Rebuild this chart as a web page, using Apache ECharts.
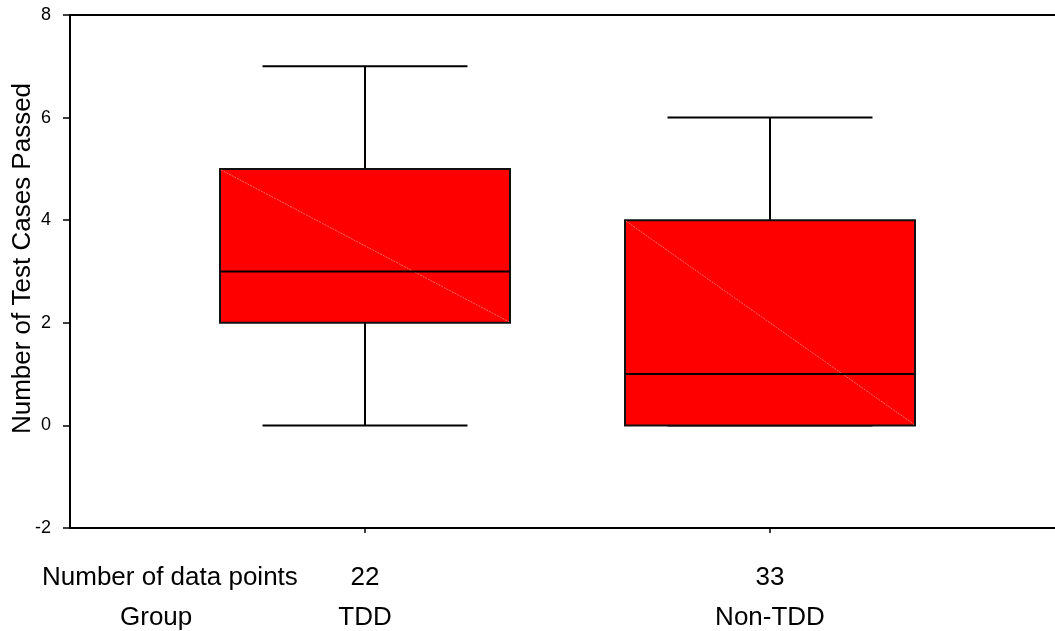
<!DOCTYPE html>
<html>
<head>
<meta charset="utf-8">
<title>Number of Test Cases Passed</title>
<script src="https://cdn.jsdelivr.net/npm/echarts@6/dist/echarts.min.js"></script>
<style>
  html, body { margin: 0; padding: 0; background: #fff; }
  #chart { width: 1055px; height: 631px; }
</style>
</head>
<body>
<div id="chart"></div>
<script>
// Box-plot summary per group
const groups      = ['TDD', 'Non-TDD'];
const dataPoints  = [22, 33];
const minValues   = [0, 0];
const q1Values    = [2, 0];
const medians     = [3, 1];
const q3Values    = [5, 4];
const maxValues   = [7, 6];

// Value axis ticks
const yTicks = { min: -2, max: 8, interval: 2 };

const FONT = "'Liberation Sans', Arial, Helvetica, sans-serif";

// Group i sits at x = i + 1 on the horizontal value axis
const boxData = groups.map((g, i) => [i + 1, minValues[i], q1Values[i], medians[i], q3Values[i], maxValues[i]]);
const groupPos = groups.map((g, i) => i + 1);

function renderBox(params, api) {
  const x = api.value(0);
  const unit = api.coord([2, 0])[0] - api.coord([1, 0])[0];
  const halfBox = unit * 0.358;
  const halfCap = unit * 0.253;
  const pMin = api.coord([x, api.value(1)]);
  const pQ1  = api.coord([x, api.value(2)]);
  const pMed = api.coord([x, api.value(3)]);
  const pQ3  = api.coord([x, api.value(4)]);
  const pMax = api.coord([x, api.value(5)]);
  const cx = pMin[0];
  const line = { stroke: '#000', lineWidth: 2 };
  return {
    type: 'group',
    children: [
      // whiskers and caps
      { type: 'line', shape: { x1: cx, y1: pQ3[1], x2: cx, y2: pMax[1] }, style: line },
      { type: 'line', shape: { x1: cx, y1: pQ1[1], x2: cx, y2: pMin[1] }, style: line },
      { type: 'line', shape: { x1: cx - halfCap, y1: pMax[1], x2: cx + halfCap, y2: pMax[1] }, style: line },
      { type: 'line', shape: { x1: cx - halfCap, y1: pMin[1], x2: cx + halfCap, y2: pMin[1] }, style: line },
      // box
      { type: 'rect', shape: { x: cx - halfBox, y: pQ3[1], width: halfBox * 2, height: pQ1[1] - pQ3[1] },
        style: { fill: '#ff0000', stroke: '#111', lineWidth: 2 } },
      // faint diagonal seam across the fill
      { type: 'line', shape: { x1: cx - halfBox + 1, y1: pQ3[1] + 1, x2: cx + halfBox - 1, y2: pQ1[1] - 1 },
        style: { stroke: 'rgba(255,170,170,0.75)', lineWidth: 0.8, lineDash: [2, 1] } },
      // median
      { type: 'line', shape: { x1: cx - halfBox, y1: pMed[1], x2: cx + halfBox, y2: pMed[1] }, style: line }
    ]
  };
}

const chart = echarts.init(document.getElementById('chart'), null, { renderer: 'canvas' });

chart.setOption({
  backgroundColor: '#ffffff',
  animation: false,
  grid: { left: 70, right: 0, top: 15, bottom: 103, containLabel: false, outerBoundsMode: 'none' },
  xAxis: [
    {
      type: 'value',
      position: 'bottom',
      min: 0.2716,
      max: 2.7037,
      splitLine: { show: false },
      axisLine: { show: true, onZero: false, lineStyle: { color: '#000', width: 2 } },
      axisTick: { show: true, customValues: groupPos, length: 5, lineStyle: { color: '#000', width: 1.5 } },
      axisLabel: {
        show: true,
        customValues: groupPos,
        margin: 30,
        fontFamily: FONT,
        formatter: function (v) {
          const i = Math.round(v) - 1;
          return '{n|' + dataPoints[i] + '}\n{g|' + groups[i] + '}';
        },
        rich: {
          n: { fontSize: 26, lineHeight: 40, color: '#000', fontFamily: FONT },
          g: { fontSize: 26, lineHeight: 40, color: '#000', fontFamily: FONT }
        }
      }
    },
    {
      type: 'value',
      position: 'top',
      min: 0.2716,
      max: 2.7037,
      splitLine: { show: false },
      axisLine: { show: true, onZero: false, lineStyle: { color: '#000', width: 2 } },
      axisTick: { show: false },
      axisLabel: { show: false }
    }
  ],
  yAxis: {
    type: 'value',
    min: yTicks.min,
    max: yTicks.max,
    interval: yTicks.interval,
    name: 'Number of Test Cases Passed',
    nameLocation: 'middle',
    nameGap: 34,
    nameRotate: 90,
    nameMoveOverlap: false,
    nameTextStyle: { fontFamily: FONT, fontSize: 26, color: '#000', padding: [0, 0, 0, 26] },
    splitLine: { show: false },
    axisLine: { show: true, onZero: false, lineStyle: { color: '#000', width: 2 } },
    axisTick: { show: true, inside: false, length: 7, lineStyle: { color: '#000', width: 1.5 } },
    axisLabel: { fontFamily: FONT, fontSize: 18, color: '#000', margin: 19 }
  },
  graphic: [
    { type: 'text', x: 42, y: 578,
      style: { text: 'Number of data points', font: '26px ' + FONT, fill: '#000', verticalAlign: 'middle' } },
    { type: 'text', x: 120, y: 618,
      style: { text: 'Group', font: '26px ' + FONT, fill: '#000', verticalAlign: 'middle' } }
  ],
  series: [
    {
      type: 'custom',
      name: 'Test cases passed',
      xAxisIndex: 0,
      yAxisIndex: 0,
      renderItem: renderBox,
      encode: { x: 0, y: [1, 2, 3, 4, 5] },
      data: boxData,
      silent: true
    }
  ]
});
</script>
</body>
</html>
